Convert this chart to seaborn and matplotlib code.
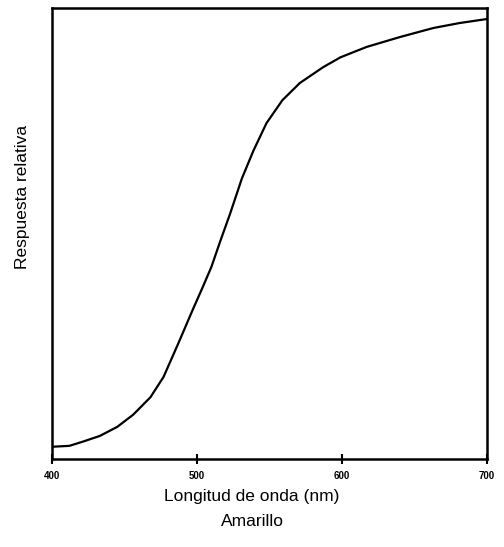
import matplotlib
matplotlib.use("Agg")
import matplotlib.pyplot as plt
import seaborn as sns
import pandas as pd

# values
wavelength = [400, 412, 421, 433, 445, 456, 468, 477, 487, 497, 504, 510, 516, 523,
              531, 539, 548, 559, 571, 587, 599, 617, 640, 663, 681, 700]
response = [0.027, 0.029, 0.038, 0.051, 0.071, 0.098, 0.137, 0.182, 0.255, 0.330,
            0.381, 0.426, 0.482, 0.545, 0.622, 0.684, 0.745, 0.796, 0.834, 0.869,
            0.891, 0.914, 0.936, 0.956, 0.967, 0.976]
xticks = [400, 500, 600, 700]

df = pd.DataFrame({"nm": wavelength, "resp": response})

sns.set_style("white")
plt.rcParams["font.family"] = ["Liberation Sans", "DejaVu Sans"]
plt.rcParams["text.color"] = "black"

fig = plt.figure(figsize=(5.04, 5.47), dpi=100)
ax = fig.add_axes([0.103, 0.161, 0.863, 0.824])

sns.lineplot(data=df, x="nm", y="resp", ax=ax, color="black", linewidth=1.6)

ax.set_xlim(400, 700)
ax.set_ylim(0, 1)
ax.set_xticks(xticks)
ax.set_xticklabels([str(t) for t in xticks], fontsize=7, fontweight="bold", color="black")
ax.set_yticks([])
ax.tick_params(axis="x", direction="inout", length=7, width=1.5, pad=5, bottom=True,
               colors="black")
for s in ax.spines.values():
    s.set_linewidth(1.8)
    s.set_color("black")

ax.set_xlabel("")
ax.set_ylabel("")
fig.text(0.5, 0.093, "Longitud de onda (nm)", ha="center", va="center", fontsize=12.5)
fig.text(0.5, 0.046, "Amarillo", ha="center", va="center", fontsize=12.5)
fig.text(0.045, 0.64, "Respuesta relativa", ha="center", va="center",
         rotation=90, fontsize=12.5)

fig.savefig("out.png", dpi=100)
